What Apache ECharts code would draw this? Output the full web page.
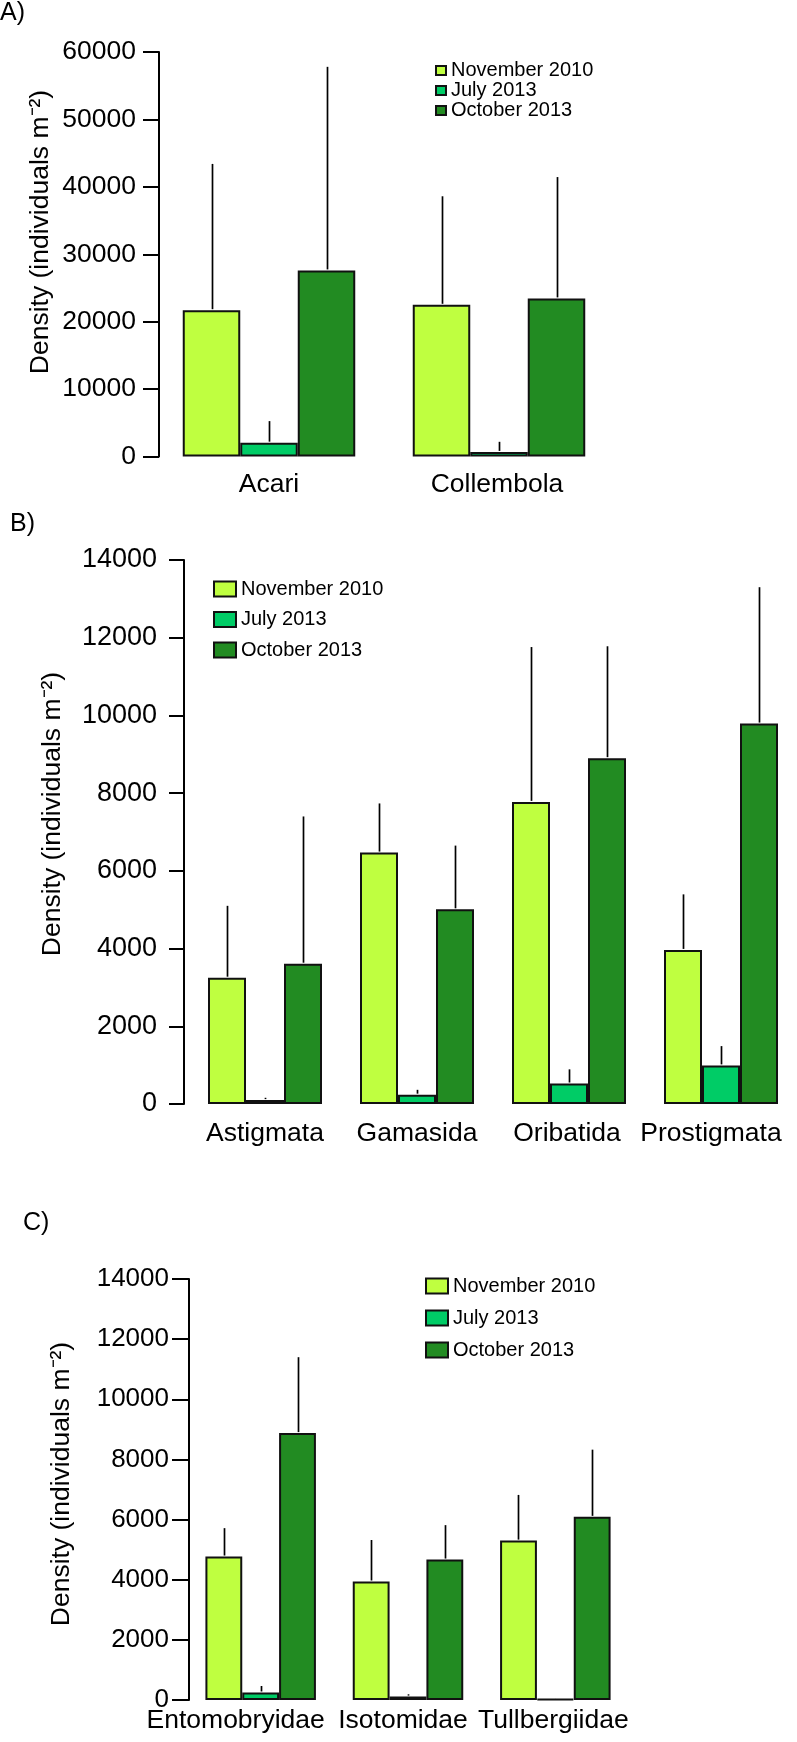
<!DOCTYPE html>
<html><head><meta charset="utf-8">
<script src="https://cdn.jsdelivr.net/npm/echarts@6/dist/echarts.min.js"></script>
<style>html,body{margin:0;padding:0;background:#fff}#c{width:797px;height:1742px}</style>
</head><body><div id="c"></div>
<script>
// ---- data ----
const seriesNames = ['November 2010', 'July 2013', 'October 2013'];
const colors = ['#bfff40', '#00cc66', '#228b22'];

const catsA = ['Acari', 'Collembola'];
const novA = [21700, 22500];
const julA = [2050, 680];
const octA = [27600, 23450];
const novA_se = [21700, 16100];
const julA_se = [3200, 1500];
const octA_se = [30200, 18000];

const catsB = ['Astigmata', 'Gamasida', 'Oribatida', 'Prostigmata'];
const novB = [3250, 6470, 7775, 3965];
const julB = [100, 240, 527, 993];
const octB = [3610, 5010, 8900, 9790];
const novB_se = [1850, 1265, 3985, 1430];
const julB_se = [60, 125, 365, 497];
const octB_se = [3790, 1640, 2880, 3510];

const catsC = ['Entomobryidae', 'Isotomidae', 'Tullbergiidae'];
const novC = [4770, 3940, 5300];
const julC = [250, 113, 25];
const octC = [8875, 4670, 6090];
const novC_se = [945, 1380, 1520];
const julC_se = [215, 77, 35];
const octC_se = [2525, 1145, 2235];

const yTitle = 'Density (individuals m\u207B\u00B2)';
const FONT = 'Liberation Sans, Arial, sans-serif';

// ---- build ----
// labelShift: horizontal nudge of each category label (px, negative = left), as in the original figure
const panels = [
  {cats: catsA, means: [novA, julA, octA], ses: [novA_se, julA_se, octA_se], max: 60000, interval: 10000,
   grid: {left: 154, top: 52, width: 460, height: 404.5}, yOffset: -5, labelMargin: 15,
   tickLen: 16, tickLabelMargin: 23, tickFont: 26.5, labelShift: [0, -2],
   legend: {left: 435, top: 60.5, itemWidth: 10, itemHeight: 9, itemGap: 0, fontSize: 20, lineHeight: 19}},
  {cats: catsB, means: [novB, julB, octB], ses: [novB_se, julB_se, octB_se], max: 14000, interval: 2000,
   grid: {left: 189, top: 560, width: 622, height: 544}, yOffset: 5, labelMargin: 16,
   tickLen: 15, tickLabelMargin: 27, tickFont: 27, labelShift: [0, 0, -2, -10],
   legend: {left: 213, top: 579, itemWidth: 22, itemHeight: 15, itemGap: 10.5, fontSize: 20, lineHeight: 20}},
  {cats: catsC, means: [novC, julC, octC], ses: [novC_se, julC_se, octC_se], max: 14000, interval: 2000,
   grid: {left: 187, top: 1279, width: 442, height: 421}, yOffset: -2, labelMargin: 7,
   tickLen: 17, tickLabelMargin: 20, tickFont: 26, labelShift: [-25, -5, -2],
   legend: {left: 425, top: 1276, itemWidth: 22, itemHeight: 15, itemGap: 12, fontSize: 20, lineHeight: 20}}
];

const grid = [], xAxis = [], yAxis = [], series = [], legend = [];
panels.forEach((p, pi) => {
  grid.push(Object.assign({containLabel: false}, p.grid));
  const rich = {};
  p.cats.forEach((c, ci) => {
    const s = p.labelShift[ci] || 0;
    rich['c' + ci] = {fontSize: 26.5, fontFamily: FONT, color: '#000',
      padding: s < 0 ? [0, -2 * s, 0, 0] : [0, 0, 0, 2 * s]};
  });
  xAxis.push({type: 'category', gridIndex: pi, data: p.cats,
    axisLine: {show: false}, axisTick: {show: false},
    axisLabel: {color: '#000', fontSize: 26.5, fontFamily: FONT, margin: p.labelMargin, interval: 0,
      formatter: function (v, idx) { return '{c' + idx + '|' + v + '}'; }, rich: rich}});
  yAxis.push({type: 'value', gridIndex: pi, min: 0, max: p.max, interval: p.interval, offset: p.yOffset,
    axisLine: {show: true, lineStyle: {color: '#000', width: 2}},
    axisTick: {show: true, length: p.tickLen, lineStyle: {color: '#000', width: 2}},
    splitLine: {show: false},
    axisLabel: {color: '#000', fontSize: p.tickFont, fontFamily: FONT, margin: p.tickLabelMargin,
      formatter: function (v) { return String(v); }}});
  seriesNames.forEach((n, si) => {
    series.push({type: 'bar', name: n, xAxisIndex: pi, yAxisIndex: pi, data: p.means[si],
      barGap: '0%', barCategoryGap: '25%',
      itemStyle: {color: colors[si], borderColor: '#111', borderWidth: 2}});
  });
  const errData = [];
  p.cats.forEach((c, ci) => {
    for (let si = 0; si < 3; si++) errData.push([ci, si, p.means[si][ci], p.means[si][ci] + p.ses[si][ci]]);
  });
  series.push({type: 'custom', xAxisIndex: pi, yAxisIndex: pi, data: errData, z: 5,
    encode: {x: 0, y: [2, 3]}, silent: true,
    renderItem: function (params, api) {
      const ci = api.value(0), si = api.value(1);
      const p0 = api.coord([ci, api.value(2)]);
      const p1 = api.coord([ci, api.value(3)]);
      const band = api.size([1, 0])[0];
      const bw = band * 0.75 / 3;
      const x = Math.round(p0[0] + (si - 1) * bw) + 0.5;
      return {type: 'line', shape: {x1: x, y1: p0[1] - 1, x2: x, y2: p1[1]},
        style: {stroke: '#000', lineWidth: 1.7}};
    }});
  legend.push({orient: 'vertical', left: p.legend.left, top: p.legend.top, data: seriesNames,
    itemWidth: p.legend.itemWidth, itemHeight: p.legend.itemHeight, itemGap: p.legend.itemGap,
    icon: 'rect', selectedMode: false, padding: 0,
    textStyle: {color: '#000', fontSize: p.legend.fontSize, lineHeight: p.legend.lineHeight, fontFamily: FONT}});
});

const titleStyle = {text: yTitle, fontSize: 26.5, fontFamily: FONT, fill: '#000', align: 'center', verticalAlign: 'middle'};
const graphic = [
  {type: 'text', left: 0, top: 1, style: {text: 'A)', fontSize: 25, fontFamily: FONT, fill: '#000'}},
  {type: 'text', left: 10, top: 512, style: {text: 'B)', fontSize: 25, fontFamily: FONT, fill: '#000'}},
  {type: 'text', left: 23, top: 1211, style: {text: 'C)', fontSize: 25, fontFamily: FONT, fill: '#000'}},
  {type: 'text', x: 41, y: 232, rotation: Math.PI / 2, style: titleStyle},
  {type: 'text', x: 53, y: 814, rotation: Math.PI / 2, style: titleStyle},
  {type: 'text', x: 62, y: 1484, rotation: Math.PI / 2, style: titleStyle}
];

const chart = echarts.init(document.getElementById('c'), null, {renderer: 'canvas'});
chart.setOption({animation: false, backgroundColor: '#fff', grid, xAxis, yAxis, series, legend, graphic});
</script></body></html>
